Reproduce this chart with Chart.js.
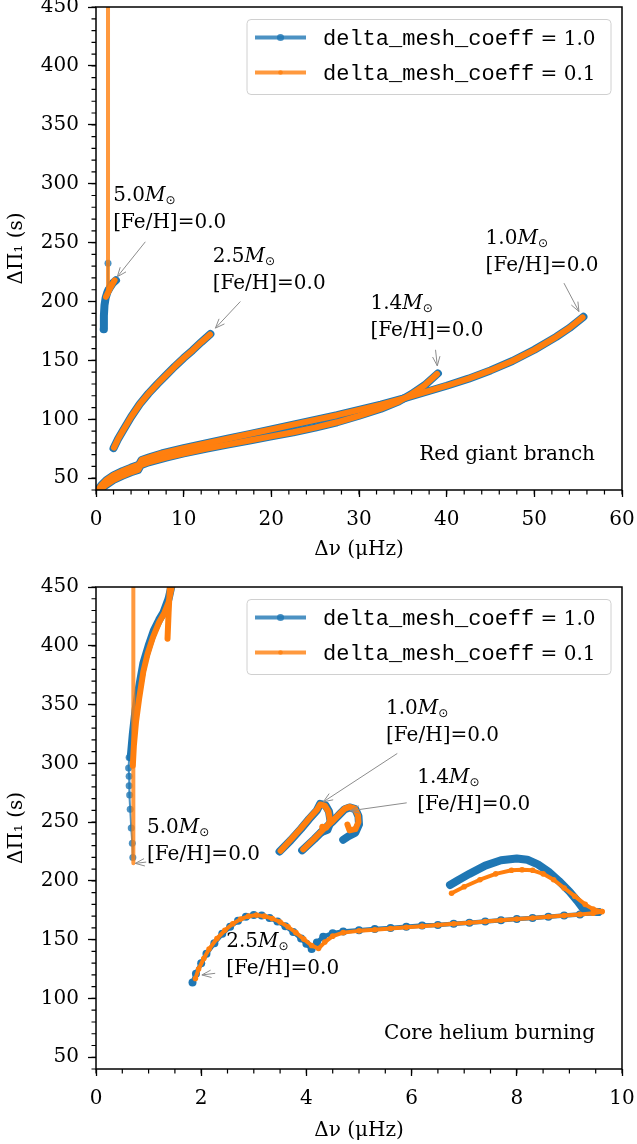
<!DOCTYPE html>
<html lang="en">
<head>
<meta charset="UTF-8">
<title>Period spacing vs large separation</title>
<script src="https://cdn.jsdelivr.net/npm/chart.js"></script>
<style>
  body { margin: 0; background: #fff; }
  .panel { position: absolute; left: 0; }
</style>
</head>
<body>
<div class="panel" style="top:0"><canvas id="rgbChart" width="637" height="572"></canvas></div>
<div class="panel" style="top:572px"><canvas id="hebChart" width="637" height="572"></canvas></div>
<script>
// ---- axes ----
const rgbXTicks = [0, 10, 20, 30, 40, 50, 60];
const hebXTicks = [0, 2, 4, 6, 8, 10];
const yTicks = [50, 100, 150, 200, 250, 300, 350, 400, 450];

// ---- legend ----
const seriesNames = ['delta_mesh_coeff', 'delta_mesh_coeff'];
const seriesValues = ['1.0', '0.1'];

// ---- red giant branch tracks [dnu, dPi1] ----
const rgb10Blue = [[0.25,40.5],[0.6,44],[1.2,48.5],[2,52.5],[3,56],[4,59],[4.9,61.5],[5.2,65.5],[6,67.5],[7.5,71],[10,75.5],[12.5,79.5],[15,83.5],[17.5,87.5],[20,91.5],[22.5,95.5],[25,99.5],[27.5,103.5],[30,108],[32.5,112.5],[35,117.5],[37.5,123],[40,128.5],[42.5,134.5],[45,141.5],[47.5,149.5],[50,159],[52.5,170],[54,177.5],[55.6,187]];
const rgb10Orange = [[0.3,40.5],[0.6,44],[1.2,48.5],[2,52.5],[3,56],[4,59],[4.9,61.5],[5.2,65.5],[6,67.5],[7.5,71],[10,75.5],[12.5,79.5],[15,83.5],[17.5,87.5],[20,91.5],[22.5,95.5],[25,99.5],[27.5,103.5],[30,108],[32.5,112.5],[35,117.5],[37.5,123],[40,128.5],[42.5,134.5],[45,141.5],[47.5,149.5],[50,159],[52.5,170],[54,177.5],[55.5,186.5]];
const rgb14Blue = [[0.5,40.5],[1,43.5],[2,48.5],[3,52],[4,55],[4.8,57],[5.1,61],[6,63.5],[8,67.5],[10,71],[12.5,75],[15,78.5],[17.5,82],[20,85.5],[22.5,89],[25,93],[27.5,97.5],[30,103],[32.5,109],[34.5,115],[36,121.5],[37.5,129],[39,139]];
const rgb14Orange = [[0.5,40.5],[1,43.5],[2,48.5],[3,52],[4,55],[4.8,57],[5.1,61],[6,63.5],[8,67.5],[10,71],[12.5,75],[15,78.5],[17.5,82],[20,85.5],[22.5,89],[25,93],[27.5,97.5],[30,103],[32.5,109],[34.5,115],[36,121.5],[37.5,129],[38.9,138.5]];
const rgb25Blue = [[2.0,75.5],[2.5,83],[3,89.5],[4,102],[5,113],[6,122],[7,130],[8,137.5],[9,145],[10,152],[11,158.5],[12,165.5],[13.05,172.5]];
const rgb25Orange = [[2.05,76],[2.5,83],[3,89.5],[4,102],[5,113],[6,122],[7,130],[8,137.5],[9,145],[10,152],[11,158.5],[12,165.5],[13.0,172]];
const rgb50BlueBand = [[0.87,176.5],[0.9,188],[0.97,197],[1.1,203],[1.3,208],[1.6,212],[1.9,215.5],[2.28,218]];
const rgb50BlueTip = [[1.37,232.5],[1.37,210]];
const rgb50OrangeBand = [[1.14,204],[1.4,208],[1.7,212.5],[2.12,218]];
const rgb50OrangeRise = [[1.37,470],[1.37,209]];

// ---- core helium burning tracks [dnu, dPi1] ----
const heb50BlueBand = [[0.66,305],[0.7,325],[0.75,345],[0.82,365],[0.9,385],[1.0,400],[1.1,413],[1.2,422],[1.28,428],[1.38,440],[1.44,452]];
const heb50BlueDots = [[0.63,305],[0.62,296],[0.63,289],[0.63,281],[0.64,273],[0.65,261],[0.67,245],[0.69,232],[0.7,220]];
const heb50OrangeBand = [[0.7,298],[0.72,315],[0.76,335],[0.82,355],[0.9,378],[0.98,393],[1.08,407],[1.2,420],[1.3,428],[1.38,437],[1.44,450],[1.45,458],[1.41,455],[1.38,428],[1.36,406]];
const heb50OrangeDrop = [[0.71,470],[0.71,215]];
const heb25Blue = [[1.835,113.5],[1.9,121],[2.0,130],[2.1,138],[2.25,147],[2.4,155],[2.55,161],[2.7,166],[2.85,169.5],[3.0,171],[3.15,170.5],[3.3,168.5],[3.45,165.5],[3.6,161.5],[3.75,156.5],[3.9,151],[4.0,146.5],[4.1,142],[4.2,147.5],[4.32,152.5],[4.5,155.5],[4.7,157],[5.0,158],[5.3,159],[5.6,160],[5.9,161],[6.2,162],[6.5,162.5],[6.8,163.5],[7.1,164.5],[7.4,165.5],[7.7,166.5],[8.0,167.5],[8.3,168.5],[8.6,169.5],[8.9,170.5],[9.2,171.5],[9.55,173.5]];
const heb25BlueLoop = [[9.55,173.5],[9.35,174],[9.25,177],[9.15,183],[9.0,191],[8.8,200],[8.6,208],[8.4,214],[8.2,218],[8.0,219],[7.7,217.5],[7.4,213],[7.1,206],[6.9,201],[6.73,196.5]];
const heb25Orange = [[1.89,117],[1.95,125],[2.05,134],[2.15,142],[2.3,151],[2.45,158],[2.6,163.5],[2.75,167.5],[2.9,170],[3.05,171],[3.2,170],[3.35,168],[3.5,165],[3.65,161],[3.8,156],[3.95,150.5],[4.1,145],[4.23,142.5],[4.35,148],[4.5,153],[4.7,156],[5.0,157.5],[5.3,158.5],[5.6,159.5],[5.9,160.5],[6.2,161.5],[6.5,162.5],[6.8,163.5],[7.1,164.5],[7.4,165.5],[7.7,166.5],[8.0,167.5],[8.3,168.5],[8.6,169.5],[8.9,170.5],[9.2,171.5],[9.45,172.5],[9.62,174]];
const heb25OrangeLoop = [[9.62,174],[9.45,176],[9.3,180],[9.1,187],[8.9,194],[8.7,201],[8.5,206],[8.3,209],[8.1,209.5],[7.9,209],[7.6,206],[7.3,201],[7.0,195],[6.76,189.5]];
const heb10Blue = [[3.49,225],[3.7,234.5],[3.9,244.5],[4.05,252.5],[4.2,260],[4.26,265.5],[4.36,264.5],[4.43,259],[4.46,250.5],[4.4,243.5],[4.29,241.5]];
const heb10Orange = [[3.51,225.6],[3.7,235],[3.9,245],[4.05,253],[4.2,260.5],[4.26,265],[4.35,264],[4.42,259],[4.45,251],[4.38,245.5],[4.3,246]];
const heb14Blue = [[3.92,226],[4.15,235.5],[4.35,244.5],[4.5,250.5],[4.64,257],[4.73,261],[4.82,262.5],[4.93,261],[4.99,255],[5.0,248],[4.93,241],[4.8,238],[4.7,235]];
const heb14Orange = [[3.94,226.8],[4.15,236],[4.35,245],[4.5,251],[4.64,257.4],[4.73,261.5],[4.82,263],[4.92,261.5],[4.98,256],[4.99,250],[4.93,244],[4.82,243],[4.78,248]];

const BLUE = '#1f77b4', ORANGE = '#ff7f0e';
const styles = {
  bandB: { color: BLUE, width: 8, r: 0, order: 1 },
  bandO: { color: ORANGE, width: 6, r: 0, order: 0 },
  beadB: { color: BLUE, width: 4.5, r: 4, order: 1 },
  beadO: { color: ORANGE, width: 4, r: 2.8, order: 0 },
  thinB: { color: 'rgba(31,119,180,0.8)', width: 2, r: 3.5, order: 1 },
  thinO: { color: 'rgba(255,127,14,0.8)', width: 4, r: 0, order: 0 }
};

function track(pts, s) {
  return {
    data: pts.map(p => ({ x: p[0], y: p[1] })),
    showLine: true,
    borderColor: s.color,
    backgroundColor: s.color,
    borderWidth: s.width,
    pointRadius: s.r,
    pointBorderWidth: 0,
    pointHoverRadius: 0,
    borderCapStyle: 'round',
    borderJoinStyle: 'round',
    tension: 0,
    order: s.order,
    clip: 0
  };
}

function drawNote(ctx, n, x, y) {
  const tx = x.getPixelForValue(n.at[0]), ty = y.getPixelForValue(n.at[1]);
  const fx = x.getPixelForValue(n.from[0]), fy = y.getPixelForValue(n.from[1]);
  const px = x.getPixelForValue(n.to[0]), py = y.getPixelForValue(n.to[1]);
  // arrow
  ctx.strokeStyle = '#8c8c8c';
  ctx.lineWidth = 1;
  ctx.beginPath();
  ctx.moveTo(fx, fy); ctx.lineTo(px, py);
  const ang = Math.atan2(py - fy, px - fx);
  for (const d of [-0.38, 0.38]) {
    ctx.moveTo(px, py);
    ctx.lineTo(px - 10 * Math.cos(ang + d), py - 10 * Math.sin(ang + d));
  }
  ctx.stroke();
  // text
  ctx.fillStyle = '#000';
  ctx.textAlign = 'left';
  ctx.textBaseline = 'alphabetic';
  ctx.font = '20px "DejaVu Serif"';
  ctx.fillText(n.mass, tx, ty);
  let cx = tx + ctx.measureText(n.mass).width;
  ctx.font = 'italic 20px "DejaVu Serif"';
  ctx.fillText('M', cx, ty);
  cx += ctx.measureText('M').width;
  ctx.font = '12px "DejaVu Sans"';
  ctx.fillText('\u2299', cx, ty + 3);
  ctx.font = '20px "DejaVu Serif"';
  ctx.fillText('[Fe/H]=0.0', tx, ty + 27);
}

const decor = {
  id: 'decor',
  afterDraw(chart, args, o) {
    const { ctx, chartArea: a, scales: { x, y } } = chart;
    ctx.save();
    // minor ticks
    ctx.strokeStyle = '#000';
    ctx.lineWidth = 1.2;
    ctx.beginPath();
    for (let v = x.min; v <= x.max + 1e-9; v += o.minorX) {
      const p = x.getPixelForValue(v);
      ctx.moveTo(p, a.bottom); ctx.lineTo(p, a.bottom + 4.5);
    }
    for (let v = Math.ceil(y.min / o.minorY) * o.minorY; v <= y.max + 1e-9; v += o.minorY) {
      const p = y.getPixelForValue(v);
      ctx.moveTo(a.left, p); ctx.lineTo(a.left - 4.5, p);
    }
    ctx.stroke();
    // frame
    ctx.lineWidth = 1.5;
    ctx.strokeRect(a.left, a.top, a.right - a.left, a.bottom - a.top);
    // stage label
    ctx.fillStyle = '#000';
    ctx.font = '20px "DejaVu Serif"';
    ctx.textAlign = 'right';
    ctx.textBaseline = 'alphabetic';
    ctx.fillText(o.stage, a.right - 27, a.bottom - 30);
    // annotations
    o.notes.forEach(n => drawNote(ctx, n, x, y));
    // legend
    const lw = 364, lh = 75;
    const lx = a.right - 11 - lw, ly = a.top + 12.5;
    ctx.beginPath();
    ctx.roundRect(lx, ly, lw, lh, 4);
    ctx.fillStyle = 'rgba(255,255,255,0.8)';
    ctx.fill();
    ctx.strokeStyle = '#d0d0d0';
    ctx.lineWidth = 1;
    ctx.stroke();
    const cols = ['rgba(31,119,180,0.8)', 'rgba(255,127,14,0.8)'];
    const marks = [3.6, 2.3];
    seriesNames.forEach((name, i) => {
      const cy = ly + 18 + i * 35;
      ctx.strokeStyle = cols[i];
      ctx.lineWidth = 4;
      ctx.beginPath();
      ctx.moveTo(lx + 8, cy); ctx.lineTo(lx + 59, cy);
      ctx.stroke();
      ctx.fillStyle = cols[i];
      ctx.beginPath();
      ctx.arc(lx + 33.5, cy, marks[i], 0, Math.PI * 2);
      ctx.fill();
      ctx.fillStyle = '#000';
      ctx.textAlign = 'left';
      ctx.font = '22px "Liberation Mono"';
      ctx.fillText(name, lx + 76, cy + 7);
      const w = ctx.measureText(name).width;
      ctx.font = '20px "DejaVu Serif"';
      ctx.fillText(' = ' + seriesValues[i], lx + 76 + w, cy + 7);
    });
    ctx.restore();
  }
};

function makeChart(id, cfg) {
  const tickFont = { family: 'DejaVu Serif', size: 20 };
  return new Chart(document.getElementById(id), {
    type: 'scatter',
    data: { datasets: cfg.datasets },
    options: {
      responsive: false,
      animation: false,
      events: [],
      layout: { padding: { top: cfg.padTop, right: 15, bottom: 0, left: 0 } },
      plugins: { legend: { display: false }, tooltip: { enabled: false }, decor: cfg.decor },
      scales: {
        x: {
          type: 'linear', min: cfg.xMin, max: cfg.xMax,
          afterBuildTicks: s => { s.ticks = cfg.xTicks.map(v => ({ value: v })); },
          afterFit: s => { s.height = cfg.xBox; s.paddingLeft = 0; s.paddingRight = 0; },
          grid: { drawOnChartArea: false, tickLength: 7, tickColor: '#000', tickWidth: 1.3 },
          border: { display: false },
          ticks: { color: '#000', font: tickFont, padding: 11, maxRotation: 0, autoSkip: false },
          title: { display: true, text: '\u0394\u03bd (\u03bcHz)', color: '#000', font: tickFont, padding: { top: 0, bottom: cfg.titlePad } }
        },
        y: {
          type: 'linear', min: 40, max: 450,
          afterBuildTicks: s => { s.ticks = yTicks.map(v => ({ value: v })); },
          afterFit: s => { s.width = 96; s.paddingTop = 0; s.paddingBottom = 0; },
          grid: { drawOnChartArea: false, tickLength: 8, tickColor: '#000', tickWidth: 1.3 },
          border: { display: false },
          ticks: { color: '#000', font: tickFont, padding: 9, autoSkip: false },
          title: { display: true, text: '\u0394\u03a0\u2081 (s)', color: '#000', font: tickFont, padding: { top: 5, bottom: 0 } }
        }
      }
    },
    plugins: [decor]
  });
}

makeChart('rgbChart', {
  padTop: 7, xBox: 82, titlePad: 10,
  xMin: 0, xMax: 60, xTicks: rgbXTicks,
  datasets: [
    track(rgb50OrangeRise, styles.thinO),
    track(rgb50OrangeBand, styles.bandO),
    track(rgb25Orange, styles.bandO),
    track(rgb14Orange, styles.bandO),
    track(rgb10Orange, styles.bandO),
    track(rgb50BlueTip, styles.thinB),
    track(rgb50BlueBand, styles.bandB),
    track(rgb25Blue, styles.bandB),
    track(rgb14Blue, styles.bandB),
    track(rgb10Blue, styles.bandB)
  ],
  decor: {
    minorX: 2, minorY: 10, stage: 'Red giant branch',
    notes: [
      { mass: '5.0', at: [1.97, 285.6], from: [5.63, 250.7], to: [2.43, 221] },
      { mass: '2.5', at: [13.31, 233.7], from: [16.47, 200], to: [13.62, 177.4] },
      { mass: '1.4', at: [31.31, 193.8], from: [38.73, 159], to: [38.93, 145.4] },
      { mass: '1.0', at: [44.44, 249], from: [53.38, 215.6], to: [55.09, 191.5] }
    ]
  }
});

makeChart('hebChart', {
  padTop: 15, xBox: 75, titlePad: 1,
  xMin: 0, xMax: 10, xTicks: hebXTicks,
  datasets: [
    track(heb50OrangeDrop, styles.thinO),
    track(heb50OrangeBand, styles.bandO),
    track(heb25Orange, styles.beadO),
    track(heb25OrangeLoop, styles.beadO),
    track(heb10Orange, styles.bandO),
    track(heb14Orange, styles.bandO),
    track(heb50BlueDots, styles.thinB),
    track(heb50BlueBand, styles.bandB),
    track(heb25Blue, styles.beadB),
    track(heb25BlueLoop, styles.bandB),
    track(heb10Blue, styles.bandB),
    track(heb14Blue, styles.bandB)
  ],
  decor: {
    minorX: 0.5, minorY: 10, stage: 'Core helium burning',
    notes: [
      { mass: '5.0', at: [0.969, 240.9], from: [0.955, 216], to: [0.746, 214.9] },
      { mass: '1.0', at: [5.514, 341.8], from: [5.728, 308.4], to: [4.323, 267.3] },
      { mass: '1.4', at: [6.108, 283.2], from: [5.907, 266.4], to: [4.83, 259.6] },
      { mass: '2.5', at: [2.475, 144], from: [2.266, 121.4], to: [2.013, 120] }
    ]
  }
});
</script>
</body>
</html>
